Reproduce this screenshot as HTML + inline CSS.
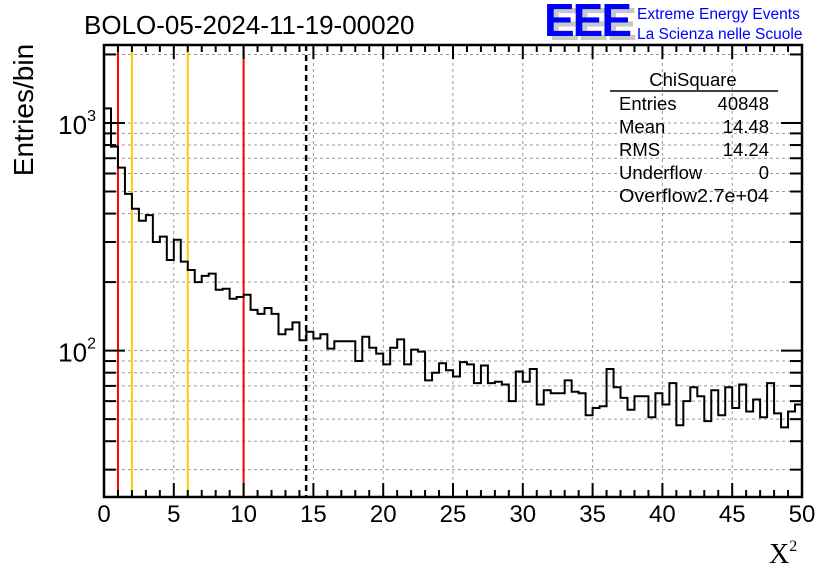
<!DOCTYPE html>
<html><head><meta charset="utf-8"><style>
html,body{margin:0;padding:0;background:#fff;}
svg{display:block;font-family:"Liberation Sans",sans-serif;}
</style></head><body>
<svg id="chart" width="836" height="572" viewBox="0 0 836 572">
<rect width="836" height="572" fill="#fff"/>
<g id="grid"></g>
<g id="vlines"></g>
<g id="hist"></g>
<g id="axes"></g>
<text x="84" y="34" font-size="26">BOLO-05-2024-11-19-00020</text>
<g>
<text x="549" y="40" font-size="46" font-weight="bold" fill="#c8c8c8" letter-spacing="-2">EEE</text>
<text x="544" y="36" font-size="46" font-weight="bold" fill="#0000ff" letter-spacing="-2">EEE</text>
<text x="637" y="19" font-size="15.5" fill="#0000ff">Extreme Energy Events</text>
<text x="637" y="39" font-size="15.5" fill="#0000ff">La Scienza nelle Scuole</text>
</g>
<g font-size="18.5">
<text x="693" y="86" text-anchor="middle">ChiSquare</text>
<line x1="610" y1="91" x2="778" y2="91" stroke="#000" stroke-width="1.5"/>
<text x="619" y="110">Entries</text><text x="769" y="110" text-anchor="end">40848</text>
<text x="619" y="133">Mean</text><text x="769" y="133" text-anchor="end">14.48</text>
<text x="619" y="156">RMS</text><text x="769" y="156" text-anchor="end">14.24</text>
<text x="619" y="179">Underflow</text><text x="769" y="179" text-anchor="end">0</text>
<text x="619" y="202" textLength="150" lengthAdjust="spacingAndGlyphs">Overflow2.7e+04</text>
</g>
<text transform="translate(33,110) rotate(-90)" font-size="28" text-anchor="middle">Entries/bin</text>
<text x="769" y="563" font-size="28" font-family="Liberation Serif,serif">X<tspan font-size="16" dy="-12">2</tspan></text>
</svg>
<script>
const counts = [1160,787,637,488,420,372,394,300,317,250,307,246,226,200,213,218,185,187,169,172,
176,151,145,154,145,118,124,133,111,121,113,118,102,110,110,110,90,115,103,97,
87,103,112,87,101,99,74,80,88,82,77,89,87,72,86,72,73,71,60,81,
73,83,58,67,65,65,74,66,65,52,56,57,83,69,62,55,63,63,51,65,
58,72,47,60,69,63,49,67,52,69,56,71,54,61,51,72,53,46,54,58];
const xTicks = [0,5,10,15,20,25,30,35,40,45,50];
const refLinesRed = [1,10];
const refLinesOrange = [2,6];
const meanValue = 14.48;
const xMin=0,xMax=50,binWidth=0.5;
const L=104,R=802,T=45,B=497;
const logMin=1.357,logMax=3.3426;
const NS="http://www.w3.org/2000/svg";
function X(v){return L+(v-xMin)/(xMax-xMin)*(R-L);}
function Y(v){return B-(Math.log10(v)-logMin)/(logMax-logMin)*(B-T);}
function mk(tag,attrs,parent){const e=document.createElementNS(NS,tag);for(const k in attrs)e.setAttribute(k,attrs[k]);parent.appendChild(e);return e;}
const grid=document.getElementById('grid'),axes=document.getElementById('axes'),vl=document.getElementById('vlines'),hist=document.getElementById('hist');
const yt=[];for(let d=1;d<=3;d++)for(let m=1;m<=9;m++){const v=m*Math.pow(10,d);if(Math.log10(v)>logMin&&Math.log10(v)<logMax)yt.push([v,m===1]);}
yt.forEach(([v,maj])=>{const y=Y(v);
const g=mk('line',{x1:L,x2:R,y1:y,y2:y,stroke:'#999','stroke-dasharray':'3,3','stroke-width':1},grid);


const len=maj?21:12;
mk('line',{x1:L,x2:L+len,y1:y,y2:y,stroke:'#000','stroke-width':2},axes);
mk('line',{x1:R,x2:R-len,y1:y,y2:y,stroke:'#000','stroke-width':2},axes);
if(maj){const t=mk('text',{x:L-8,y:y+11,'font-size':26,'text-anchor':'end'},axes);


t.textContent='10';const s=mk('tspan',{'font-size':16,dy:-13},t);s.textContent=Math.round(Math.log10(v));}
});
for(let v=0;v<=50;v++){const x=X(v);const maj=v%5===0;const len=maj?14:7;
mk('line',{x1:x,x2:x,y1:B,y2:B-len,stroke:'#000','stroke-width':2},axes);
mk('line',{x1:x,x2:x,y1:T,y2:T+len,stroke:'#000','stroke-width':2},axes);}
xTicks.forEach(v=>{const x=X(v);
if(v>0&&v<50){const g=mk('line',{x1:x,x2:x,y1:T,y2:B,stroke:'#999','stroke-dasharray':'3,3','stroke-width':1},grid);

}
const t=mk('text',{x:x,y:522,'font-size':24,'text-anchor':'middle'},axes);


t.textContent=v;});
refLinesRed.forEach(v=>{const l=mk('line',{x1:X(v),x2:X(v),y1:T,y2:B,stroke:'#ff0000','stroke-width':2},vl);

});
refLinesOrange.forEach(v=>{const l=mk('line',{x1:X(v),x2:X(v),y1:T,y2:B,stroke:'#ffcc00','stroke-width':2},vl);

});
const ml=mk('line',{x1:X(meanValue),x2:X(meanValue),y1:T,y2:B,stroke:'#000','stroke-width':2.5,'stroke-dasharray':'6,4'},vl);


let d='M'+X(0)+','+B;
counts.forEach((c,i)=>{const y=Y(c);d+=' L'+X(i*binWidth)+','+y+' L'+X((i+1)*binWidth)+','+y;});
const p=mk('path',{d:d,fill:'none',stroke:'#000','stroke-width':2},hist);


const fr=mk('rect',{x:L,y:T,width:R-L,height:B-T,fill:'none',stroke:'#000','stroke-width':2.5},axes);


</script>
</body></html>
